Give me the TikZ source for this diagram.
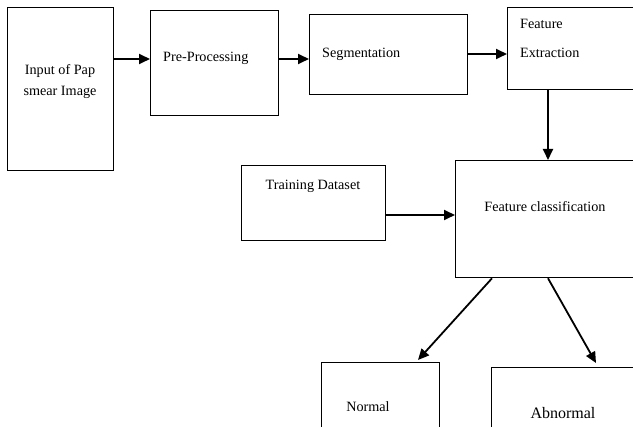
\documentclass[tikz,border=0pt]{standalone}
\usepackage{fontspec}
\setmainfont{Liberation Serif}
\usetikzlibrary{arrows.meta,calc}
\begin{document}
\begin{tikzpicture}[x=1pt,y=-1pt,
  box/.style={draw=black,line width=1.3pt,rectangle,inner sep=0pt,anchor=north west},
  lbl/.style={font=\fontsize{14.2}{16}\selectfont,inner sep=0pt,anchor=base west},
  arr/.style={line width=1.8pt,-{Triangle[length=11pt,width=10pt]}}]
\useasboundingbox (0,0) rectangle (633,427);
\clip (0,0) rectangle (633,427);
% boxes
\node[box,minimum width=106pt,minimum height=163pt] (inp) at (7,7) {};
\node[box,minimum width=128pt,minimum height=105pt] (pre) at (150,10) {};
\node[box,minimum width=158pt,minimum height=80pt] (seg) at (309,14) {};
\node[box,minimum width=140pt,minimum height=82pt] (fe) at (507,7) {};
\node[box,minimum width=144pt,minimum height=75pt] (td) at (241,165) {};
\node[box,minimum width=190pt,minimum height=117pt] (fc) at (455,160) {};
\node[box,minimum width=118pt,minimum height=80pt] (nor) at (321,362) {};
\node[box,minimum width=150pt,minimum height=80pt] (abn) at (491,367) {};
% texts
\node[lbl,anchor=base] (t1) at (60,75) {Input of Pap};
\node[lbl,anchor=base] (t2) at (60,96) {smear Image};
\node[lbl] (t3) at (163,62) {Pre-Processing};
\node[lbl] (t4) at (322,58) {Segmentation};
\node[lbl] (t5) at (520,29) {Feature};
\node[lbl] (t6) at (520,58) {Extraction};
\node[lbl,anchor=base] (t7) at (313,190) {Training Dataset};
\node[lbl,anchor=base] (t8) at (545,212) {Feature classification};
\node[lbl,anchor=base] (t9) at (368,412) {Normal};
\node[lbl,anchor=base,font=\fontsize{16}{18}\selectfont] (t10) at (563,419) {Abnormal};
% connectors
\draw[arr] (inp.east |- 0,59) -- (pre.west |- 0,59);
\draw[arr] (pre.east |- 0,59) -- (seg.west |- 0,59);
\draw[arr] (seg.east |- 0,54) -- (fe.west |- 0,54);
\draw[arr] (fe.south -| 548,0) -- (fc.north -| 548,0);
\draw[arr] (td.east |- 0,215) -- (fc.west |- 0,215);
\coordinate (n1) at ($(fc.south west)+(37,0)$);
\coordinate (n2) at ($(nor.north west)+(97,-2)$);
\coordinate (a1) at ($(fc.south west)+(93,0)$);
\coordinate (a2) at ($(abn.north west)+(105,-4)$);
\draw[arr] (n1) -- (n2);
\draw[arr] (a1) -- (a2);
\end{tikzpicture}
\end{document}
